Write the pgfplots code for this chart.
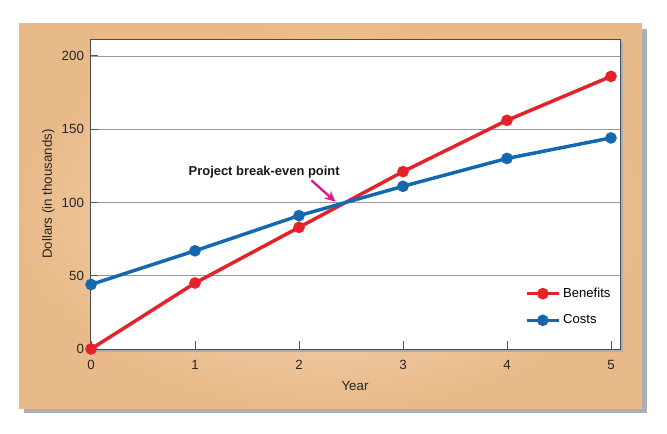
\documentclass[border=0pt]{standalone}
\usepackage{pgfplots}
\pgfplotsset{compat=1.18}
\usetikzlibrary{arrows.meta}
\usepackage{fontspec}
\setmainfont{Liberation Sans}
\definecolor{bred}{HTML}{E42229}
\definecolor{cblue}{HTML}{1468B1}
\definecolor{tanedge}{HTML}{E9BA89}
\definecolor{tancenter}{HTML}{F7E0C4}
\definecolor{shadowg}{HTML}{A9AFB6}
\definecolor{arrowm}{HTML}{E0198C}
\begin{document}
\begin{tikzpicture}[x=0.75pt,y=0.75pt]
\path[use as bounding box] (0,0) rectangle (667,434);
\fill[shadowg] (24,21) rectangle (647,405);
\shade[inner color=tancenter, outer color=tanedge] (19,25) rectangle (642,410);
\fill[shadowg] (93,82) rectangle (623,392);
\coordinate (A) at (90,85);
\begin{axis}[
  at={(A)}, anchor=south west,
  scale only axis, width=397.5pt, height=232.5pt,
  xmin=-0.01, xmax=5.087, ymin=0, ymax=211.5,
  xtick={0,1,2,3,4,5}, ytick={0,50,100,150,200},
  xtick pos=bottom, ytick pos=left,
  tick align=inside, major tick length=6pt,
  tick style={black!65, line width=0.6pt},
  ymajorgrids, grid style={black!40, line width=0.5pt},
  axis line style={black!70, line width=0.7pt},
  axis background/.style={fill=white},
  /pgf/number format/assume math mode=true,
  tick label style={font=\fontsize{10}{12}\selectfont, text=black!85},
  xticklabel style={yshift=-5pt},
  yticklabel style={xshift=-1pt},
  xlabel={Year}, ylabel={Dollars (in thousands)},
  label style={font=\fontsize{10}{12}\selectfont, text=black!85},
  xlabel style={yshift=-1.5pt},
  ylabel style={yshift=-1.5pt},
  legend style={draw=none, fill=none, at={(rel axis cs:0.995,0.215)}, anchor=north east,
    font=\fontsize{9.8}{12}\selectfont, row sep=7.5pt,
    legend image code/.code={\draw[mark repeat=2,mark phase=2,#1] plot coordinates {(0cm,0cm) (0.42cm,0cm) (0.84cm,0cm)};}},
  legend cell align=left,
  legend image post style={line width=2.6pt, mark size=3pt},
  clip=false,
]
\addplot[bred, line width=2.6pt, mark=*, mark size=3pt] coordinates {
(0,0) (1,45) (2,83) (3,121) (4,156) (5,186)};
\addlegendentry{Benefits}
\addplot[cblue, line width=2.6pt, mark=*, mark size=3pt] coordinates {
(0,44) (1,67) (2,91) (3,111) (4,130) (5,144)};
\addlegendentry{Costs}
\node[font=\bfseries\fontsize{9.7}{11}\selectfont, text=black!90] at (axis cs:1.665,120.5) {Project break-even point};
\draw[arrowm, line width=1.8pt, -{Stealth[length=8pt,width=7.5pt]}] (axis cs:2.12,115) -- (axis cs:2.35,100.5);
\end{axis}
\end{tikzpicture}
\end{document}
